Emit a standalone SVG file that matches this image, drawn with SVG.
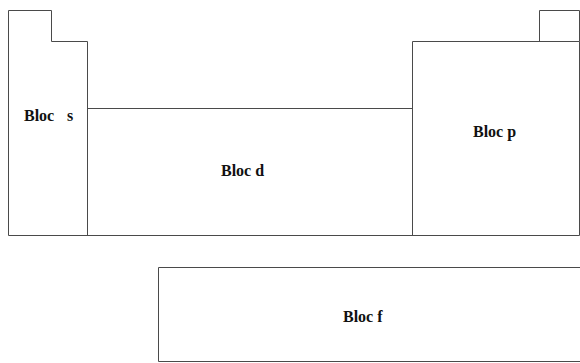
<svg xmlns="http://www.w3.org/2000/svg" width="580" height="363" viewBox="0 0 580 363">
<style>
.ln{fill:none;stroke:#4a4a4a;stroke-width:1}
.t{font-family:"Liberation Serif","Times New Roman",serif;font-weight:bold;font-size:16px;fill:#111}
</style>
<rect width="580" height="363" fill="#fff"/>
<g id="bloc-s">
<path class="ln" d="M8.5,235.5 V10.5 H51.5 V41.5 H87.5 V235.5"/>
<text class="t" x="24" y="121">Bloc</text>
<text class="t" x="67" y="121">s</text>
</g>
<g id="bloc-d">
<path class="ln" d="M87.5,108.5 H412.5"/>
<text class="t" x="221" y="176">Bloc d</text>
</g>
<g id="bloc-p">
<path class="ln" d="M412.5,235.5 V41.5 H579.5 V235.5 M539.5,41.5 V10.5 H579.5 V41.5"/>
<text class="t" x="473" y="137">Bloc p</text>
</g>
<g id="base">
<path class="ln" d="M8.5,235.5 H579.5"/>
</g>
<g id="bloc-f">
<path class="ln" d="M581,267.5 H158.5 V361.5 H581"/>
<text class="t" x="343" y="322">Bloc f</text>
</g>
<g id="connectors"></g>
</svg>
